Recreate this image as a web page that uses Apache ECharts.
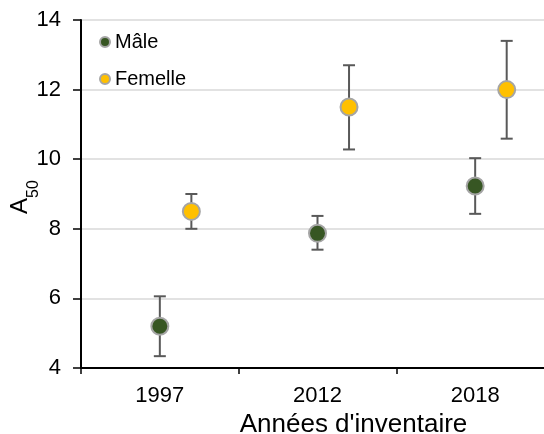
<!DOCTYPE html>
<html>
<head>
<meta charset="utf-8">
<script src="https://cdn.jsdelivr.net/npm/echarts@6/dist/echarts.min.js"></script>
<style>
  html, body { margin: 0; padding: 0; background: #fff; }
  #chart { width: 544px; height: 434px; }
</style>
</head>
<body>
<div id="chart"></div>
<script>
// Inventory years (x categories)
const years = ['1997', '2012', '2018'];

// A50 estimates per sex, with lower / upper bounds of the error bars
const maleA50 = [5.2, 7.87, 9.23];
const maleLow = [4.34, 7.4, 8.43];
const maleHigh = [6.06, 8.37, 10.03];

const femaleA50 = [8.5, 11.5, 12.0];
const femaleLow = [8.0, 10.28, 10.59];
const femaleHigh = [9.0, 12.7, 13.4];

// Y axis ticks
const yMin = 4, yMax = 14, yStep = 2;

// Horizontal placement inside each year slot (in slot units)
const MALE_POS = 0.5;
const FEMALE_POS = 0.7;

const FONT = '"Liberation Sans", Arial, sans-serif';

function points(vals, pos) {
  return vals.map((v, i) => [i + pos, v]);
}
function bars(low, high, pos) {
  return low.map((lo, i) => [i + pos, lo, high[i]]);
}

function errorBarRenderer(params, api) {
  const x = api.value(0);
  const lo = api.coord([x, api.value(1)]);
  const hi = api.coord([x, api.value(2)]);
  const cap = 6;
  const style = { stroke: '#595959', lineWidth: 2 };
  return {
    type: 'group',
    children: [
      { type: 'line', shape: { x1: lo[0], y1: lo[1], x2: hi[0], y2: hi[1] }, style },
      { type: 'line', shape: { x1: hi[0] - cap, y1: hi[1], x2: hi[0] + cap, y2: hi[1] }, style },
      { type: 'line', shape: { x1: lo[0] - cap, y1: lo[1], x2: lo[0] + cap, y2: lo[1] }, style }
    ]
  };
}

const chart = echarts.init(document.getElementById('chart'), null, { renderer: 'canvas' });

chart.setOption({
  animation: false,
  textStyle: { fontFamily: FONT },
  grid: { left: 81, top: 20, right: -10, bottom: 66, containLabel: false, outerBoundsMode: 'none' },
  legend: {
    orient: 'vertical',
    left: 99,
    top: 32,
    padding: 0,
    itemWidth: 10,
    itemHeight: 10,
    itemGap: 17,
    data: ['Mâle', 'Femelle'],
    textStyle: { fontFamily: FONT, fontSize: 20, color: '#000' }
  },
  xAxis: [
    {
      type: 'category',
      data: years,
      boundaryGap: true,
      axisLine: { lineStyle: { color: '#000', width: 2 } },
      axisTick: { show: true, length: 6, lineStyle: { color: '#000', width: 1.5 } },
      axisLabel: { fontFamily: FONT, fontSize: 22, color: '#000', margin: 17 },
      splitLine: { show: false },
      name: "Années d'inventaire",
      nameLocation: 'middle',
      nameGap: 36,
      nameTextStyle: { fontFamily: FONT, fontSize: 26, color: '#000', padding: [0, 0, 0, 72] }
    },
    {
      type: 'value',
      min: 0,
      max: 3,
      show: false
    }
  ],
  yAxis: {
    type: 'value',
    min: yMin,
    max: yMax,
    interval: yStep,
    axisLine: { show: true, lineStyle: { color: '#000', width: 2 } },
    axisTick: { show: true, length: 8, lineStyle: { color: '#000', width: 1.5 } },
    axisLabel: { fontFamily: FONT, fontSize: 22, color: '#000', margin: 20 },
    splitLine: { show: true, lineStyle: { color: '#d9d9d9', width: 1.5 } },
    name: '{a|A}{s|50}',
    nameLocation: 'middle',
    nameGap: 39,
    nameMoveOverlap: false,
    nameTextStyle: {
      fontFamily: FONT,
      color: '#000',
      padding: [0, 6, 0, 0],
      rich: {
        a: { fontFamily: FONT, fontSize: 24, lineHeight: 24, verticalAlign: 'top', color: '#000' },
        s: { fontFamily: FONT, fontSize: 16, lineHeight: 34, verticalAlign: 'bottom', color: '#000' }
      }
    }
  },
  series: [
    {
      name: 'Mâle-err',
      type: 'custom',
      xAxisIndex: 1,
      renderItem: errorBarRenderer,
      data: bars(maleLow, maleHigh, MALE_POS),
      z: 1
    },
    {
      name: 'Femelle-err',
      type: 'custom',
      xAxisIndex: 1,
      renderItem: errorBarRenderer,
      data: bars(femaleLow, femaleHigh, FEMALE_POS),
      z: 1
    },
    {
      name: 'Mâle',
      type: 'scatter',
      xAxisIndex: 1,
      symbol: 'circle',
      symbolSize: 17,
      itemStyle: { color: '#375623', borderColor: '#a5a5a5', borderWidth: 2, opacity: 1 },
      data: points(maleA50, MALE_POS),
      z: 3
    },
    {
      name: 'Femelle',
      type: 'scatter',
      xAxisIndex: 1,
      symbol: 'circle',
      symbolSize: 17,
      itemStyle: { color: '#ffc000', borderColor: '#a5a5a5', borderWidth: 2, opacity: 1 },
      data: points(femaleA50, FEMALE_POS),
      z: 3
    }
  ]
});
</script>
</body>
</html>
